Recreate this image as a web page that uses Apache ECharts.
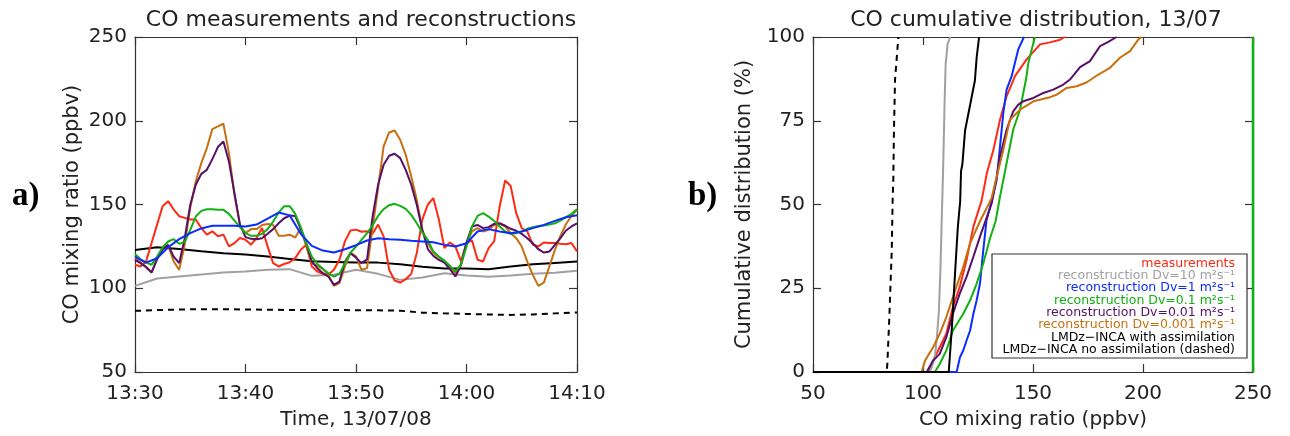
<!DOCTYPE html>
<html><head><meta charset="utf-8">
<script src="https://cdn.jsdelivr.net/npm/echarts@6/dist/echarts.min.js"></script>
<style>html,body{margin:0;padding:0;background:#fff}#c{width:1290px;height:436px}</style>
</head><body><div id="c"></div>
<script>
// ---------- tick labels ----------
const timeTickLabels = ['13:30', '13:40', '13:50', '14:00', '14:10'];

// ---------- panel a: time in minutes after 13:30 ----------
const tHalf = [0,0.5,1,1.5,2,2.5,3,3.5,4,4.5,5,5.5,6,6.5,7,7.5,8,8.5,9,9.5,10,10.5,11,11.5,12,12.5,13,13.5,14,14.5,15,15.5,16,16.5,17,17.5,18,18.5,19,19.5,20,20.5,21,21.5,22,22.5,23,23.5,24,24.5,25,25.5,26,26.5,27,27.5,28,28.5,29,29.5,30,30.5,31,31.5,32,32.5,33,33.5,34,34.5,35,35.5,36,36.5,37,37.5,38,38.5,39,39.5,40];
const tOne = [0,1,2,3,4,5,6,7,8,9,10,11,12,13,14,15,16,17,18,19,20,21,22,23,24,25,26,27,28,29,30,31,32,33,34,35,36,37,38,39,40];
const tTwo = [0,2,4,6,8,10,12,14,16,18,20,22,24,26,28,30,32,34,36,38,40];

const measured = [114,113,116,127,138,149,152,147,143,142,141,141,136,132,134,131,132,125,127,130,129,126,130,136,125,115,113,114.5,115.5,118,123,126,113,110,108.6,108,111,117,128,134.5,135,133.7,134,132.5,138,131,111,104.6,103.4,105.4,108.6,121,141,150,153.8,141,124,127.3,125,116,127,128.5,117,116,124,128,148.8,164.3,161,144.8,135.9,134,126,125,127.3,127,127,126.5,126.3,127,122];
const recDv0001 = [118,115.5,113,109.4,118,123.3,125.5,116,111,126,148,163.7,174.7,183.7,195,196.6,198.2,180.7,155.8,137.8,132.9,135.3,135.3,137.8,138.4,137.8,131.3,131.3,132,130.3,135.9,125,115,113.3,111.4,108,101.4,103,113,121.3,119,111,112,135.9,159.8,184.7,193,194.2,188.6,179.7,166.7,152.8,134.9,126.9,121.3,118.5,116.3,113,109,114.5,126.9,133.9,135.9,133.9,134.9,137.8,138.4,136.9,132.9,129.9,124.9,115.9,108,101.4,103.4,113,122.9,131.3,138.2,143.2,147];
const recDv001 = [117,115,112.5,109.4,117.3,123.3,125.9,118.9,115,129.9,149.8,161.8,168.3,170.7,177.1,184.3,187.6,175.7,156.8,137.8,130.5,129.5,129.3,129.9,132.5,135.3,138.8,141.8,143.4,143.2,135.3,126.9,115.9,112,109,107,102,104,115.9,120.9,118.3,115,117.3,142.8,161.8,173.7,179.1,180.3,177.7,170.7,161.8,149.8,134.9,123.3,119.3,116.9,115.3,111.4,107,113.9,127.3,136.9,137.8,135.9,136.5,138.4,138.8,137.3,135.5,134.3,132.5,129.9,126.9,123.3,121.3,121.9,125.9,129.9,134.5,136.9,138.8];
const recDv01 = [120.5,117.3,115.3,114,118.9,124.5,127.9,129.3,126.5,127.7,134.9,142.8,146.2,147.2,147.2,146.8,146.8,144.4,140.4,136.5,132.9,131.3,131.3,132.5,135.3,139.8,145.2,149,149,144.4,136.5,126.9,118.9,114.5,111.6,109,107,108.6,114.9,121.3,124.9,128.9,132.9,137.6,143.2,147.2,149.6,150.4,149.2,147.4,143.8,138.8,133.3,128.9,121.9,118.9,116.5,113.3,110.2,113.9,124.9,136.9,143.2,144.8,142.8,140.2,136.9,133.9,132.5,132.9,133.9,135.5,136.5,137.1,137.5,138,138.8,140.4,142.4,144.4,147.2];
const recDv1 = [118.9,115.3,117.9,124.5,129.3,132.9,135.7,137.3,137.3,137.3,136.9,138,141.6,145.2,143.5,132.5,125.3,122.5,121.3,123.3,125.7,128.5,129.9,129.3,128.9,128.3,127.9,127.5,125.9,124.9,126.9,133.9,135.3,133.9,132.9,133.9,135.9,137.8,140.2,142.4,143.6];
const recDv10 = [101.4,105.8,107,108.2,109.4,110,111,111.4,107.4,108,111,108.6,105,106.4,109,107.6,106.8,107.6,108.6,109.2,110.4];
const lmdzAssim = [122.9,124.5,123.5,122.1,120.9,120.1,118.9,117.5,116.1,115.7,115.3,115.3,114.3,112.9,111.8,111.8,111.4,113,114.3,115.1,115.9];
const lmdzNoAssim = [86.5,87,87.3,87.5,87.5,87.3,87.2,87,87,87,86.9,86.8,86.6,85.4,85,84.7,84.3,84.1,84.4,85,85.5];

// ---------- panel b: cumulative distributions [CO ppbv, %] ----------
const cdfMeasured = [[50,0],[102.4,0],[104.6,3.4],[107.6,7.4],[110.6,11.4],[113.6,19.4],[116.7,25.4],[119.8,33.4],[122.9,43.4],[126.7,51.3],[129,59.3],[132,66.3],[135,75.3],[138,82.3],[141.8,88.3],[147.1,93.3],[153.2,97.8],[157.7,98.4],[162.3,99.2],[164.5,100]];
const cdfDv10 = [[50,0],[103,0],[104,1.5],[105.5,5],[106.4,11],[107.2,18],[107.9,30],[108.5,45],[109.2,62],[109.8,80],[110.3,92],[111.2,98],[112.4,100]];
const cdfDv1 = [[50,0],[115.3,0],[116.8,4.4],[118.3,6.4],[119.8,9.4],[121.4,12.4],[122.9,17.4],[124.4,21.4],[125.9,26.4],[127.4,36.4],[128.9,45.4],[131.2,51],[133.5,57.3],[135,67.3],[136.5,77.3],[138,84.3],[140.3,88.3],[141.8,92.3],[143.3,96.3],[145.9,100]];
const cdfDv01 = [[50,0],[105.4,0],[107.6,2.4],[110.6,6.4],[113.6,12.4],[118.3,17.4],[121.4,21.4],[124.4,26.4],[127.4,32.4],[130.5,40],[133,45],[135,52.3],[138,62.3],[141,72.3],[144.1,78.3],[146.8,87.3],[147.9,92.3],[149.4,96.3],[150.9,100]];
const cdfDv001 = [[50,0],[101.7,0],[104.6,3.4],[107.6,5.4],[110.6,10.4],[113.6,17.4],[116.7,23.4],[119.8,28.4],[122.9,34.4],[125.9,40.4],[128.9,46],[131.2,50.3],[133.5,58.3],[135,64.3],[138,72.3],[141,77.8],[143.3,79.8],[145.6,80.8],[150.2,81.8],[154.7,83.3],[159.2,84.3],[163.8,85.8],[166.8,87.3],[171.4,91],[175.9,92.8],[180.5,97.3],[184,98.5],[188,100]];
const cdfDv0001 = [[50,0],[99.4,0],[100.9,3.4],[104.6,7.4],[107.6,11.4],[110.6,16.4],[113.6,22.4],[118.3,31.4],[121.4,38.4],[125.9,45],[130,50.3],[131.2,52],[133.5,58.3],[136.5,66.3],[139.5,75.3],[144.1,78.3],[150.2,80.8],[157.7,82],[160.8,82.8],[165.3,84.8],[169.9,85.3],[174.5,86.5],[179.7,88.8],[185,90.8],[189.5,93.8],[194.1,95.8],[197.9,99.3],[199.4,100]];
const cdfAssim = [[50,0],[111.7,0],[113.2,14],[114.7,31],[115.8,43],[116.9,51],[117.3,60],[117.9,62],[119.1,72],[120.6,77],[122.1,82],[123.6,87],[124.4,94],[125.5,100]];
const cdfNoAssim = [[50,0],[83.5,0],[83.8,2.5],[84.7,16.4],[85.8,36.4],[86.2,51.3],[86.5,57.3],[86.8,72.3],[87.3,87.3],[88.8,100]];
const cdfEdge = [[250,0],[250,100]];

// ---------- styling ----------
const FONT = 'DejaVu Sans';
const TXT = '#222';
const C = {
  meas: '#ff2a14', dv10: '#a0a0a0', dv1: '#0a2cff', dv01: '#12b012',
  dv001: '#55106a', dv0001: '#c8700f', assim: '#000000'
};
const names = {
  meas: 'measurements',
  dv10: 'reconstruction Dv=10 m²s⁻¹',
  dv1: 'reconstruction Dv=1 m²s⁻¹',
  dv01: 'reconstruction Dv=0.1 m²s⁻¹',
  dv001: 'reconstruction Dv=0.01 m²s⁻¹',
  dv0001: 'reconstruction Dv=0.001 m²s⁻¹',
  assim: 'LMDz−INCA with assimilation',
  noassim: 'LMDz−INCA no assimilation (dashed)'
};

const pairs = (xs, ys) => xs.map((x, i) => [x, ys[i]]);

function mkX(grid, pos, labels, extra) {
  return Object.assign({
    gridIndex: grid, type: 'value', position: pos,
    axisLine: { show: true, onZero: false, lineStyle: { color: '#333', width: 1.2 } },
    axisTick: { show: true, inside: true, length: 8, lineStyle: { color: '#333', width: 1.2 } },
    splitLine: { show: false },
    axisLabel: labels ? { show: true, fontFamily: FONT, fontSize: 20, color: TXT, margin: 12 } : { show: false }
  }, extra);
}
function mkY(grid, pos, labels, extra) {
  return Object.assign({
    gridIndex: grid, type: 'value', position: pos,
    axisLine: { show: true, onZero: false, lineStyle: { color: '#333', width: 1.2 } },
    axisTick: { show: true, inside: true, length: 8, lineStyle: { color: '#333', width: 1.2 } },
    splitLine: { show: false },
    axisLabel: labels ? { show: true, fontFamily: FONT, fontSize: 20, color: TXT, margin: 8 } : { show: false }
  }, extra);
}

const lineS = (name, data, color, xi, yi, extra) => Object.assign({
  name, type: 'line', data, xAxisIndex: xi, yAxisIndex: yi,
  showSymbol: false, symbol: 'none', animation: false,
  lineStyle: { color, width: 2 }, itemStyle: { color }
}, extra);

const chart = echarts.init(document.getElementById('c'));

const legendLines = [
  ['meas', names.meas], ['dv10', names.dv10], ['dv1', names.dv1], ['dv01', names.dv01],
  ['dv001', names.dv001], ['dv0001', names.dv0001], ['assim', names.assim], ['assim', names.noassim]
];

chart.setOption({
  backgroundColor: '#fff',
  animation: false,
  title: [
    { text: 'CO measurements and reconstructions', left: 356, top: 4, textAlign: 'center',
      textStyle: { fontFamily: FONT, fontSize: 22, fontWeight: 'normal', color: TXT } },
    { text: 'CO cumulative distribution, 13/07', left: 1031, top: 4, textAlign: 'center',
      textStyle: { fontFamily: FONT, fontSize: 22, fontWeight: 'normal', color: TXT } }
  ],
  grid: [
    { left: 135, top: 37, width: 442, height: 335 },
    { left: 813, top: 37, width: 440, height: 335 }
  ],
  xAxis: [
    mkX(0, 'bottom', true, { min: 0, max: 40, interval: 10,
      axisLabel: { show: true, fontFamily: FONT, fontSize: 20, color: TXT, margin: 12,
        formatter: v => timeTickLabels[Math.round(v / 10)] },
      name: 'Time, 13/07/08', nameLocation: 'middle', nameGap: 38,
      nameTextStyle: { fontFamily: FONT, fontSize: 20, color: TXT } }),
    mkX(0, 'top', false, { min: 0, max: 40, interval: 10 }),
    mkX(1, 'bottom', true, { min: 50, max: 250, interval: 50,
      name: 'CO mixing ratio (ppbv)', nameLocation: 'middle', nameGap: 38,
      nameTextStyle: { fontFamily: FONT, fontSize: 20, color: TXT } }),
    mkX(1, 'top', false, { min: 50, max: 250, interval: 50 })
  ],
  yAxis: [
    mkY(0, 'left', true, { min: 50, max: 250, interval: 50,
      name: 'CO mixing ratio (ppbv)', nameLocation: 'middle', nameGap: 52,
      nameTextStyle: { fontFamily: FONT, fontSize: 21, color: TXT } }),
    mkY(0, 'right', false, { min: 50, max: 250, interval: 50 }),
    mkY(1, 'left', true, { min: 0, max: 100, interval: 25,
      name: 'Cumulative distribution (%)', nameLocation: 'middle', nameGap: 58,
      nameTextStyle: { fontFamily: FONT, fontSize: 21, color: TXT } }),
    mkY(1, 'right', false, { min: 0, max: 100, interval: 25 })
  ],
  series: [
    lineS(names.assim, pairs(tTwo, lmdzAssim), C.assim, 0, 0),
    lineS(names.noassim, pairs(tTwo, lmdzNoAssim), C.assim, 0, 0, { lineStyle: { color: C.assim, width: 2, type: [6, 5] } }),
    lineS(names.dv10, pairs(tTwo, recDv10), C.dv10, 0, 0),
    lineS(names.meas, pairs(tHalf, measured), C.meas, 0, 0),
    lineS(names.dv0001, pairs(tHalf, recDv0001), C.dv0001, 0, 0),
    lineS(names.dv001, pairs(tHalf, recDv001), C.dv001, 0, 0),
    lineS(names.dv01, pairs(tHalf, recDv01), C.dv01, 0, 0),
    lineS(names.dv1, pairs(tOne, recDv1), C.dv1, 0, 0),

    lineS(names.meas, cdfMeasured, C.meas, 2, 2),
    lineS(names.dv10, cdfDv10, C.dv10, 2, 2),
    lineS(names.dv1, cdfDv1, C.dv1, 2, 2),
    lineS(names.dv01, cdfDv01, C.dv01, 2, 2),
    lineS(names.dv001, cdfDv001, C.dv001, 2, 2),
    lineS(names.dv0001, cdfDv0001, C.dv0001, 2, 2),
    lineS(names.noassim, cdfNoAssim, C.assim, 2, 2, { lineStyle: { color: C.assim, width: 2, type: [6, 5] } }),
    lineS(names.assim, cdfAssim, C.assim, 2, 2),
    lineS(names.dv01, cdfEdge, C.dv01, 2, 2, { clip: false, lineStyle: { color: C.dv01, width: 2.5 } })
  ],
  graphic: [
    { type: 'text', left: 12, top: 180, z: 100,
      style: { text: 'a)', font: 'bold 33px "Liberation Serif"', fill: '#000' } },
    { type: 'text', left: 688, top: 180, z: 100,
      style: { text: 'b)', font: 'bold 33px "Liberation Serif"', fill: '#000' } },
    { type: 'rect', z: 90, shape: { x: 992, y: 254, width: 255, height: 104 },
      style: { fill: '#fff', stroke: '#333', lineWidth: 1.2 } }
  ].concat(legendLines.map((l, i) => ({
    type: 'text', z: 95, x: 1235, y: 263.5 + i * 12.3,
    style: { text: l[1], fill: C[l[0]], font: '12.5px "DejaVu Sans"', align: 'right', verticalAlign: 'middle' }
  })))
});
</script>
</body></html>
